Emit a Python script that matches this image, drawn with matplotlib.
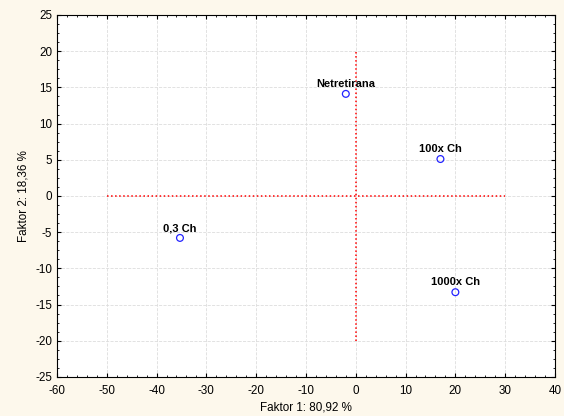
import matplotlib.pyplot as plt
from matplotlib.ticker import MultipleLocator, AutoMinorLocator

plt.rcParams['font.family'] = ['Liberation Sans', 'DejaVu Sans']
plt.rcParams['axes.unicode_minus'] = False

labels = ['Netretirana', '100x Ch', '1000x Ch', '0,3 Ch']
f1 = [-2.0, 17.0, 20.0, -35.3]
f2 = [14.1, 5.1, -13.3, -5.8]

hline_x = [-50, 30]
vline_y = [-20, 20]

fig = plt.figure(figsize=(5.64, 4.16), dpi=100, facecolor='#fdf8ec')
ax = fig.add_axes([0.101, 0.094, 0.883, 0.870])
ax.set_facecolor('white')

ax.plot(hline_x, [0, 0], color='red', ls=':', lw=1.1)
ax.plot([0, 0], vline_y, color='red', ls=':', lw=1.1)

ax.scatter(f1, f2, s=24, facecolors='none', edgecolors='#2323ff', lw=0.9, zorder=3)
for x, y, t in zip(f1, f2, labels):
    ax.annotate(t, (x, y), xytext=(0, 3.5), textcoords='offset points',
                ha='center', va='bottom', fontsize=8, fontweight='bold')

ax.set_xlim(-60, 40)
ax.set_ylim(-25, 25)
ax.xaxis.set_major_locator(MultipleLocator(10))
ax.yaxis.set_major_locator(MultipleLocator(5))
ax.xaxis.set_minor_locator(AutoMinorLocator(5))
ax.yaxis.set_minor_locator(AutoMinorLocator(4))
ax.tick_params(which='both', direction='in', top=True, right=True, labelsize=8.4)
ax.tick_params(axis='x', which='major', pad=6)
ax.tick_params(which='major', length=3)
ax.tick_params(which='minor', length=1.5)
ax.grid(True, which='major', color='#dddddd', ls='--', lw=0.6)
ax.set_axisbelow(True)

ax.set_xlabel('Faktor 1: 80,92 %', fontsize=8.4, labelpad=3)
ax.set_ylabel('Faktor 2: 18,36 %', fontsize=8.4)

fig.savefig('out.png', dpi=100, facecolor=fig.get_facecolor())
